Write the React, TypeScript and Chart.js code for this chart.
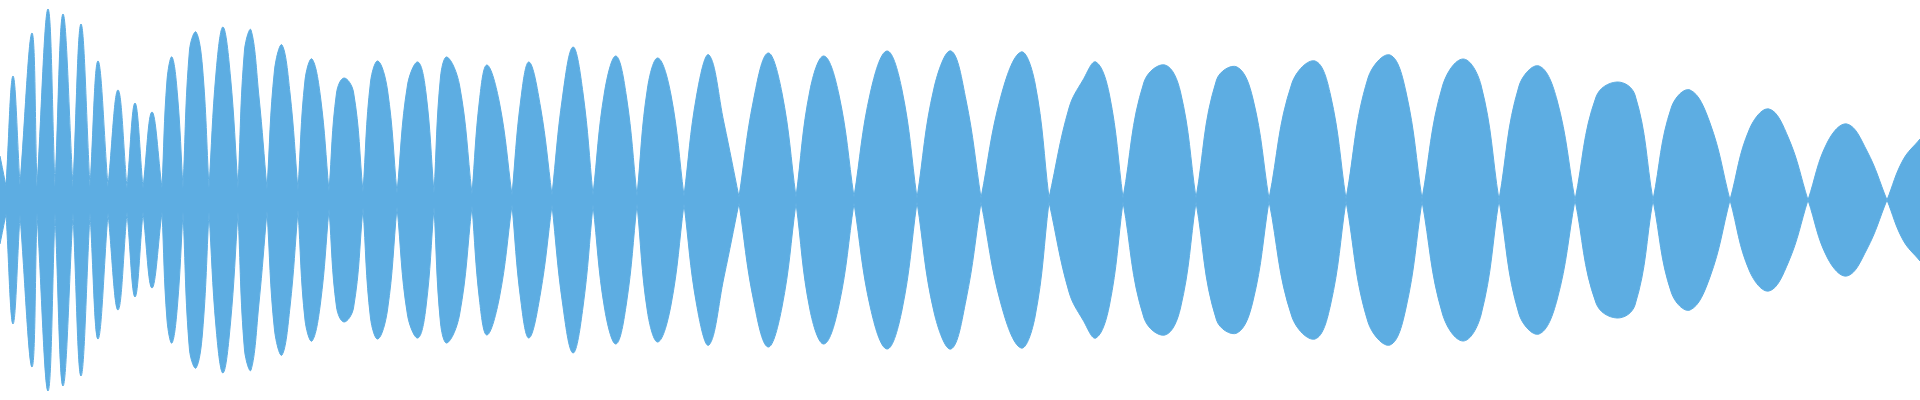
import React, { useEffect, useRef } from "react";
import { Chart, registerables } from "chart.js";

Chart.register(...registerables);

// Time in seconds, amplitude as a fraction of full scale (-1..1)
const troughTimes = [
  0.06, 0.2, 0.37, 0.55, 0.73, 0.9, 1.08, 1.27, 1.43, 1.62, 1.83, 2.09, 2.38, 2.67,
  2.98, 3.29, 3.63, 3.97, 4.34, 4.72, 5.12, 5.52, 5.93, 6.37, 6.84, 7.39, 7.96, 8.54,
  9.17, 9.81, 10.49, 11.23, 11.96, 12.69, 13.46, 14.22, 14.99, 15.75, 16.53, 17.3,
  18.08, 18.87,
];
const troughLevels = [
  0.07, 0.075, 0.065, 0.065, 0.065, 0.065, 0.065, 0.06, 0.06, 0.06, 0.06, 0.06, 0.06,
  0.055, 0.05, 0.045, 0.04, 0.035, 0.035, 0.03, 0.025, 0.025, 0.025, 0.02, 0.02, 0.015,
  0.015, 0.015, 0.01, 0.01, 0.01, 0.01, 0.01, 0.005, 0.005, 0.005, 0, 0, 0, 0, 0, 0,
];
const peakTimes = [
  0.13, 0.32, 0.48, 0.63, 0.81, 0.98, 1.18, 1.35, 1.52, 1.72, 1.96, 2.23, 2.51, 2.82,
  3.12, 3.44, 3.78, 4.18, 4.47, 4.87, 5.29, 5.73, 6.16, 6.58, 7.09, 7.68, 8.24, 8.87,
  9.51, 10.21, 10.96, 11.65, 12.37, 13.15, 13.9, 14.63, 15.39, 16.17, 16.9, 17.69, 18.47,
];
const peakLevels = [
  0.62, 0.835, 0.955, 0.93, 0.88, 0.695, 0.55, 0.485, 0.44, 0.715, 0.84, 0.865, 0.85,
  0.775, 0.705, 0.61, 0.695, 0.69, 0.715, 0.675, 0.69, 0.765, 0.72, 0.71, 0.725, 0.735,
  0.72, 0.745, 0.745, 0.74, 0.69, 0.675, 0.665, 0.695, 0.725, 0.705, 0.67, 0.59, 0.55,
  0.455, 0.38,
];
// outline points read on the flanks of the lobes, plus the two edges
const outlineTimes = [
  0.0, 1.67, 1.775, 1.895, 2.025, 2.16, 2.305, 2.445, 2.59, 2.745, 2.9, 3.05, 3.205,
  3.365, 3.535, 3.705, 3.875, 4.075, 4.26, 4.405, 4.595, 4.795, 4.995, 5.205, 5.405,
  5.625, 5.83, 6.045, 6.265, 6.475, 6.71, 6.965, 7.24, 7.535, 7.82, 8.1, 8.39, 8.705,
  9.02, 9.34, 9.66, 10.01, 10.35, 10.69, 10.83, 11.095, 11.44, 11.805, 12.165, 12.53,
  12.92, 13.305, 13.68, 14.06, 14.425, 14.81, 15.19, 15.57, 15.96, 16.35, 16.715, 17.1,
  17.495, 17.885, 18.275, 18.67, 19.03, 19.2,
];
const outlineLevels = [
  0.22, 0.6, 0.525, 0.75, 0.665, 0.635, 0.615, 0.75, 0.515, 0.65, 0.535, 0.6, 0.515,
  0.535, 0.54, 0.59, 0.55, 0.575, 0.535, 0.615, 0.575, 0.5, 0.485, 0.49, 0.465, 0.515,
  0.535, 0.54, 0.515, 0.56, 0.525, 0.52, 0.385, 0.5, 0.535, 0.55, 0.525, 0.54, 0.55,
  0.56, 0.5, 0.52, 0.585, 0.46, 0.6, 0.525, 0.59, 0.54, 0.6, 0.505, 0.585, 0.525, 0.61,
  0.54, 0.57, 0.575, 0.57, 0.5, 0.515, 0.525, 0.465, 0.385, 0.355, 0.31, 0.29, 0.245,
  0.2, 0.305,
];

const DURATION = 19.2;
const WAVE_COLOR = "#5DADE2";

type Pt = { x: number; y: number | null };

// One line segment per lobe (trough -> trough), separated by gaps so that
// every crossing is a sharp cusp while the lobe itself stays smooth.
function buildEnvelope(): Pt[] {
  const all: { x: number; y: number; trough: boolean }[] = [];
  troughTimes.forEach((t, i) => all.push({ x: t, y: troughLevels[i], trough: true }));
  peakTimes.forEach((t, i) => all.push({ x: t, y: peakLevels[i], trough: false }));
  outlineTimes.forEach((t, i) => all.push({ x: t, y: outlineLevels[i], trough: false }));
  all.sort((a, b) => a.x - b.x);

  const out: Pt[] = [];
  let seg: Pt[] = [];
  for (const p of all) {
    seg.push({ x: p.x, y: p.y });
    if (p.trough) {
      out.push(...seg, { x: p.x, y: null });
      seg = [{ x: p.x, y: p.y }];
    }
  }
  out.push(...seg);
  return out;
}

export default function App() {
  const ref = useRef<HTMLCanvasElement | null>(null);

  useEffect(() => {
    if (!ref.current) return;
    const upper = buildEnvelope();
    const lower = upper.map((p) => ({ x: p.x, y: p.y === null ? null : -p.y }));
    const common = {
      fill: "origin" as const,
      backgroundColor: WAVE_COLOR,
      borderColor: WAVE_COLOR,
      borderWidth: 1,
      pointRadius: 0,
      tension: 0.4,
      spanGaps: false,
    };
    const chart = new Chart(ref.current, {
      type: "line",
      data: {
        datasets: [
          { ...common, data: upper },
          { ...common, data: lower },
        ],
      },
      options: {
        animation: false,
        responsive: false,
        devicePixelRatio: 1,
        layout: { padding: 0 },
        events: [],
        scales: {
          x: { type: "linear", min: 0, max: DURATION, display: false },
          y: { type: "linear", min: -1, max: 1, display: false },
        },
        plugins: {
          legend: { display: false },
          tooltip: { enabled: false },
        },
      },
    });
    return () => chart.destroy();
  }, []);

  return (
    <div
      style={{
        position: "fixed",
        left: 0,
        top: 0,
        width: 1920,
        height: 400,
        background: "#ffffff",
      }}
    >
      <canvas ref={ref} width={1920} height={400} style={{ display: "block" }} />
    </div>
  );
}
